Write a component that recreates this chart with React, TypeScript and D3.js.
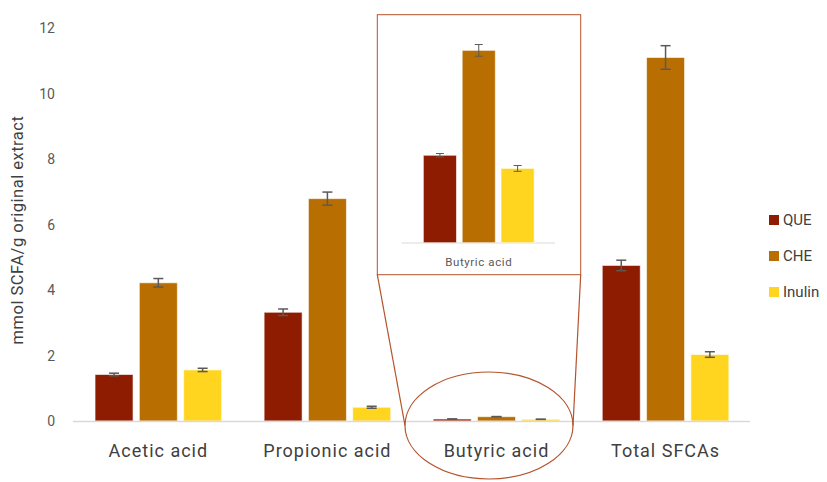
import * as d3 from 'd3';

const categories = ['Acetic acid', 'Propionic acid', 'Butyric acid', 'Total SFCAs'];
const series = ['QUE', 'CHE', 'Inulin'];
const queValues = [1.42, 3.32, 0.06, 4.75];
const queErr = [0.04, 0.1, 0.0012, 0.16];
const cheValues = [4.22, 6.79, 0.132, 11.1];
const cheErr = [0.13, 0.2, 0.004, 0.36];
const inulinValues = [1.56, 0.42, 0.051, 2.03];
const inulinErr = [0.05, 0.03, 0.002, 0.085];
const yTicks = [0, 2, 4, 6, 8, 10, 12];
const colors = ['#8E1C00', '#B86E00', '#FFD520'];

const values = [queValues, cheValues, inulinValues];
const errors = [queErr, cheErr, inulinErr];

const width = 827;
const height = 482;
const font = 'Roboto, "Noto Sans", sans-serif';

export default function App() {
  const x = d3.scaleBand().domain(categories).range([73.8, 750.1]);
  const y = d3.scaleLinear().domain([0, 12]).range([421, 28]);
  const inner = d3.scaleBand().domain(series).range([-63.3, 63.3]).paddingInner(0.142);

  // inset zoom on butyric acid
  const butyricIdx = categories.indexOf('Butyric acid');
  const insetX = d3.scaleBand().domain(['Butyric acid']).range([401.7, 555]);
  const insetInner = d3.scaleBand().domain(series).range([-55.4, 55.4]).paddingInner(0.147);
  const insetY = d3.scaleLinear().domain([0, 0.14]).range([242.7, 38.7]);
  const insetCx = insetX('Butyric acid')! + insetX.bandwidth() / 2 + 0.4;

  const errColor = '#5a5a5a';
  const zoomColor = '#B5532C';

  return (
    <svg width={width} height={height} style={{ position: 'absolute', left: 0, top: 0, background: '#fff' }}>
      {/* y tick labels */}
      {yTicks.map((t) => (
        <text key={t} x={55} y={y(t)} textAnchor="end" dominantBaseline="central" fontSize={14} fill="#595959" fontFamily={font}>
          {t}
        </text>
      ))}
      <text
        transform={`translate(17,230) rotate(-90)`}
        textAnchor="middle"
        dominantBaseline="central"
        fontSize={16.5}
        fill="#404040"
        fontFamily={font}
        letterSpacing={0.5}
      >
        mmol SCFA/g original extract
      </text>

      {/* bars */}
      {categories.map((c, ci) => {
        const cx = x(c)! + x.bandwidth() / 2;
        return (
          <g key={c}>
            {series.map((s, si) => {
              const v = values[si][ci];
              const e = errors[si][ci];
              const bx = cx + inner(s)!;
              const bw = inner.bandwidth();
              const mx = bx + bw / 2;
              return (
                <g key={s}>
                  <rect x={bx} y={y(v)} width={bw} height={y(0) - y(v)} fill={colors[si]} stroke="#fff" strokeOpacity={0.6} strokeWidth={1} />
                  <line x1={mx} x2={mx} y1={y(v + e)} y2={y(v - e)} stroke={errColor} strokeWidth={1.5} />
                  <line x1={mx - 5} x2={mx + 5} y1={y(v + e)} y2={y(v + e)} stroke={errColor} strokeWidth={1.5} />
                  <line x1={mx - 5} x2={mx + 5} y1={y(v - e)} y2={y(v - e)} stroke={errColor} strokeWidth={1.5} />
                </g>
              );
            })}
            <text x={cx} y={450} textAnchor="middle" dominantBaseline="central" fontSize={18} fill="#404040" fontFamily={font} letterSpacing={1}>
              {c}
            </text>
          </g>
        );
      })}
      <line x1={73} x2={750} y1={421.5} y2={421.5} stroke="#d9d9d9" strokeWidth={1.5} />

      {/* inset */}
      <rect x={377.3} y={14.7} width={203.4} height={260} fill="#fff" stroke={zoomColor} strokeWidth={1} />
      <line x1={401.7} x2={555} y1={243} y2={243} stroke="#d9d9d9" strokeWidth={1} />
      {series.map((s, si) => {
        const v = values[si][butyricIdx];
        const e = errors[si][butyricIdx];
        const bx = insetCx + insetInner(s)!;
        const bw = insetInner.bandwidth();
        const mx = bx + bw / 2;
        return (
          <g key={s}>
            <rect x={bx} y={insetY(v)} width={bw} height={insetY(0) - insetY(v)} fill={colors[si]} stroke="#fff" strokeOpacity={0.6} strokeWidth={1} />
            <line x1={mx} x2={mx} y1={insetY(v + e)} y2={insetY(v - e)} stroke={errColor} strokeWidth={1} />
            <line x1={mx - 4} x2={mx + 4} y1={insetY(v + e)} y2={insetY(v + e)} stroke={errColor} strokeWidth={1} />
            <line x1={mx - 4} x2={mx + 4} y1={insetY(v - e)} y2={insetY(v - e)} stroke={errColor} strokeWidth={1} />
          </g>
        );
      })}
      <text x={insetCx} y={262} textAnchor="middle" dominantBaseline="central" fontSize={11.5} fill="#595959" fontFamily={font} letterSpacing={0.6}>
        Butyric acid
      </text>

      {/* zoom connectors */}
      <line x1={377.3} y1={274.7} x2={405} y2={425.5} stroke={zoomColor} strokeWidth={1.2} />
      <line x1={580.7} y1={274.7} x2={573} y2={425.5} stroke={zoomColor} strokeWidth={1.2} />
      <ellipse cx={489} cy={425.5} rx={84} ry={53.5} fill="none" stroke={zoomColor} strokeWidth={1.2} />

      {/* legend */}
      {series.map((s, si) => (
        <g key={s} transform={`translate(769,${220 + si * 36})`}>
          <rect x={0} y={-5} width={10} height={10} fill={colors[si]} />
          <text x={14} y={0} dominantBaseline="central" fontSize={15} fill="#404040" fontFamily={font}>
            {s}
          </text>
        </g>
      ))}
    </svg>
  );
}
